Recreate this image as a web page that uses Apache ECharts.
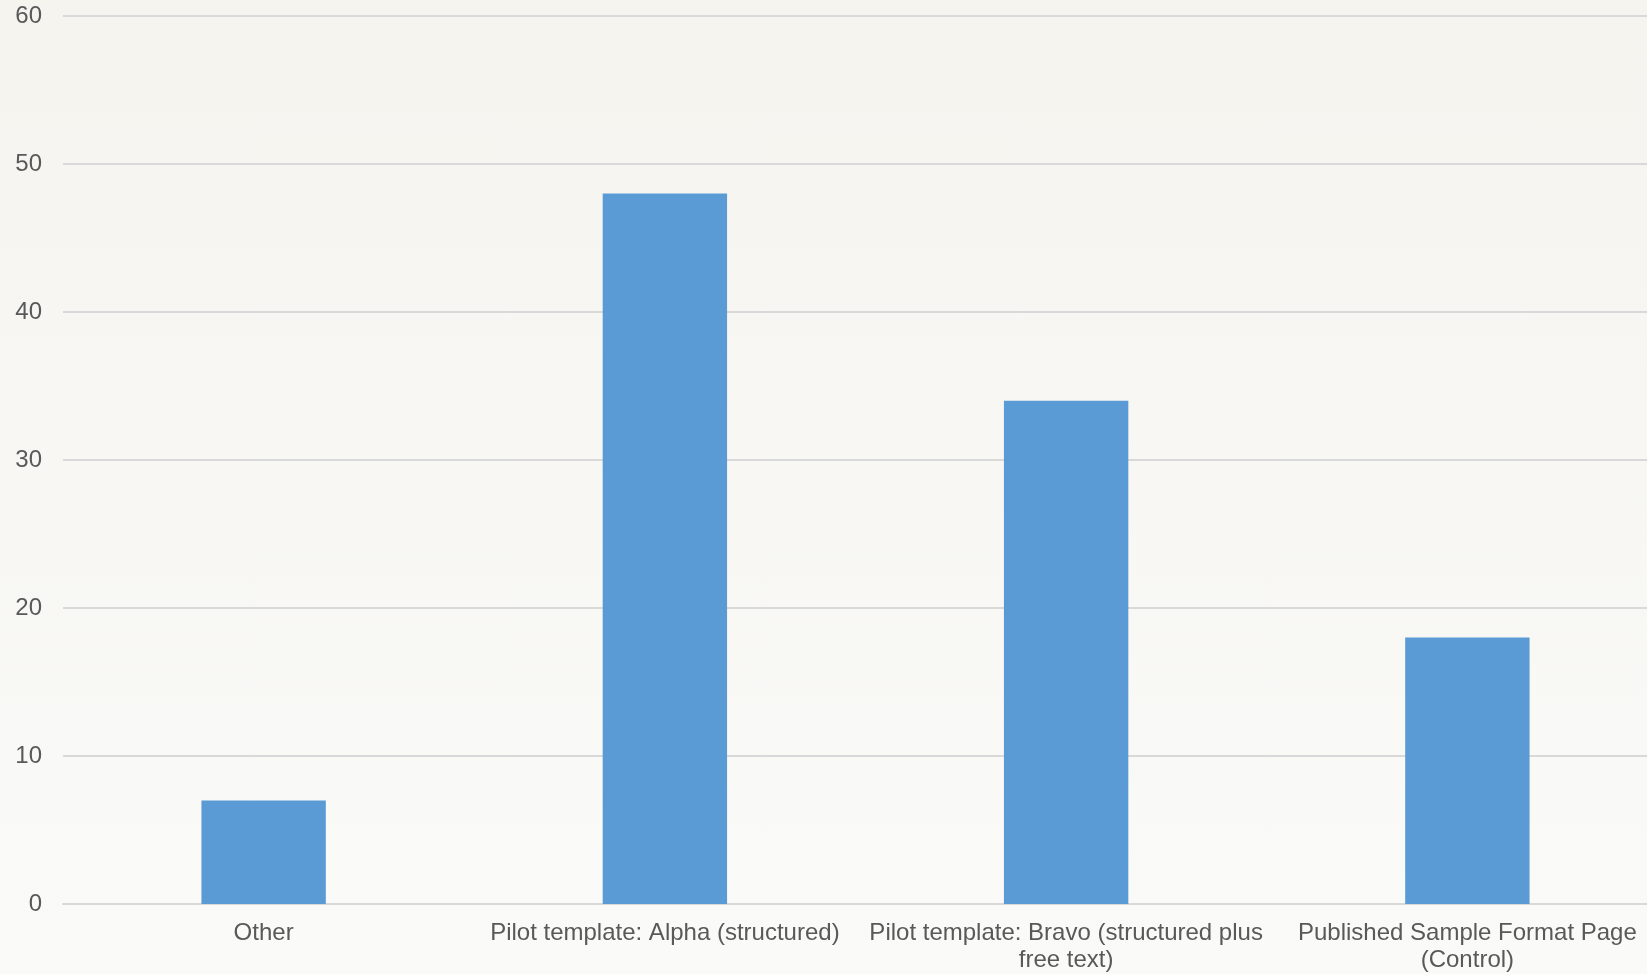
<!DOCTYPE html>
<html>
<head>
<meta charset="utf-8">
<script src="https://cdn.jsdelivr.net/npm/echarts@6/dist/echarts.min.js"></script>
<style>
html,body{margin:0;padding:0;width:1647px;height:974px;overflow:hidden;background:linear-gradient(#f5f4ef,#fafaf8);}
#c{width:1647px;height:974px;}
</style>
</head>
<body>
<div id="c"></div>
<script>
var categories = [
  "Other",
  "Pilot template: Alpha (structured)",
  "Pilot template: Bravo (structured plus\nfree text)",
  "Published Sample Format Page\n(Control)"
];
var values = [7, 48, 34, 18];
var yTicks = [0, 10, 20, 30, 40, 50, 60];

var chart = echarts.init(document.getElementById('c'));
chart.setOption({
  backgroundColor: 'transparent',
  animation: false,
  grid: {left: 63, width: 1605, top: 16, bottom: 70, containLabel: false, outerBoundsMode: 'none'},
  xAxis: {
    type: 'category',
    data: categories,
    axisLine: {show: true, lineStyle: {color: '#d9d9d9', width: 2}},
    axisTick: {show: false},
    axisLabel: {
      color: '#595959', fontSize: 24, fontFamily: 'Liberation Sans, Arial, sans-serif',
      margin: 16, lineHeight: 27, interval: 0
    }
  },
  yAxis: {
    type: 'value',
    min: yTicks[0], max: yTicks[yTicks.length - 1], interval: 10,
    axisLine: {show: false},
    axisTick: {show: false},
    splitLine: {lineStyle: {color: '#d9d9d9', width: 2}},
    axisLabel: {
      color: '#595959', fontSize: 24, fontFamily: 'Liberation Sans, Arial, sans-serif',
      margin: 21
    }
  },
  series: [{
    type: 'bar',
    data: values,
    barWidth: '31%',
    itemStyle: {color: '#5b9bd5'}
  }]
});
</script>
</body>
</html>
